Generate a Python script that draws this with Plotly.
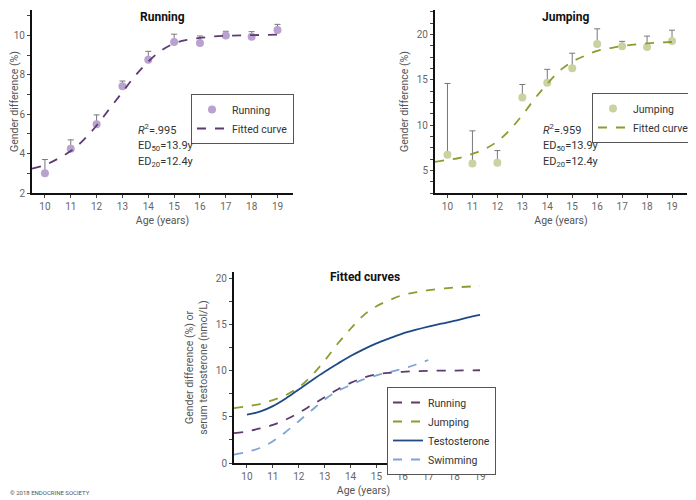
import plotly.graph_objects as go

# page body has an 8px margin, so the figure is drawn 8px smaller and shifted
OFF = 8
W, H = 696 - OFF, 500 - OFF

# DATA
ages = [10, 11, 12, 13, 14, 15, 16, 17, 18, 19]

running_pct = [3.0, 4.25, 5.49, 7.43, 8.77, 9.68, 9.62, 10.0, 9.94, 10.28]
running_err = [0.7, 0.45, 0.48, 0.26, 0.43, 0.39, 0.36, 0.22, 0.26, 0.29]

jumping_pct = [6.71, 5.76, 5.84, 13.03, 14.66, 16.26, 18.95, 18.69, 18.62, 19.28]
jumping_err = [7.88, 3.6, 1.34, 1.45, 1.49, 1.67, 1.67, 0.55, 1.2, 1.19]

curve_age = [9.5, 10, 10.5, 11, 11.5, 12, 12.5, 13, 13.5, 14, 14.5, 15, 15.5, 16, 16.5, 17, 18, 19]
running_fit = [3.24, 3.42, 3.74, 4.13, 4.7, 5.43, 6.28, 7.13, 7.97, 8.68, 9.24, 9.6, 9.78, 9.88, 9.95, 9.99, 10.02, 10.05]
jumping_fit = [5.94, 6.16, 6.38, 6.82, 7.36, 8.2, 9.47, 11.1, 12.92, 14.55, 16.0, 16.99, 17.64, 18.19, 18.48, 18.73, 19.02, 19.17]

testo_age = [10, 10.5, 11, 11.5, 12, 12.5, 13, 13.5, 14, 14.5, 15, 15.5, 16, 16.5, 17, 17.5, 18, 18.5, 19]
testo_fit = [5.25, 5.56, 6.16, 6.99, 7.97, 8.95, 9.89, 10.76, 11.59, 12.32, 12.97, 13.51, 14.02, 14.42, 14.78, 15.1, 15.4, 15.75, 16.05]

swim_age = [9.5, 10, 10.5, 11, 11.5, 12, 12.5, 13, 13.5, 14, 14.5, 15, 15.5, 16, 16.5, 17]
swim_fit = [0.9, 1.2, 1.63, 2.36, 3.37, 4.53, 5.72, 6.88, 7.79, 8.44, 9.06, 9.49, 9.86, 10.22, 10.65, 11.16]

FONT = "Roboto, sans-serif"
C_RUN_PT, C_RUN = "#b9a2cf", "#5d3b70"
C_JMP_PT, C_JMP = "#c8d3a2", "#8c9c2e"
C_TESTO, C_SWIM = "#1f4a86", "#7ea4d6"


def px_x(p):
    return max(p - OFF, 0) / W


def px_y(p):
    return 1 - max(p - OFF, 0) / H


fig = go.Figure()

# top-left: running
fig.add_trace(go.Scatter(x=ages, y=running_pct, mode="markers", name="Running",
                         marker=dict(color=C_RUN_PT, size=8),
                         error_y=dict(type="data", symmetric=False, array=running_err,
                                      arrayminus=[0] * 10, color="#777", thickness=1, width=3),
                         xaxis="x", yaxis="y", legend="legend"))
fig.add_trace(go.Scatter(x=curve_age, y=running_fit, mode="lines", name="Fitted curve",
                         line=dict(color=C_RUN, width=1.8, dash="dash", shape="spline"),
                         xaxis="x", yaxis="y", legend="legend"))

# top-right: jumping
fig.add_trace(go.Scatter(x=ages, y=jumping_pct, mode="markers", name="Jumping",
                         marker=dict(color=C_JMP_PT, size=8),
                         error_y=dict(type="data", symmetric=False, array=jumping_err,
                                      arrayminus=[0] * 10, color="#777", thickness=1, width=3),
                         xaxis="x2", yaxis="y2", legend="legend2"))
fig.add_trace(go.Scatter(x=curve_age, y=jumping_fit, mode="lines", name="Fitted curve",
                         line=dict(color=C_JMP, width=1.8, dash="dash", shape="spline"),
                         xaxis="x2", yaxis="y2", legend="legend2"))

# bottom: all fitted curves
fig.add_trace(go.Scatter(x=curve_age, y=running_fit, mode="lines", name="Running",
                         line=dict(color=C_RUN, width=1.8, dash="dash", shape="spline"),
                         xaxis="x3", yaxis="y3", legend="legend3"))
fig.add_trace(go.Scatter(x=curve_age, y=jumping_fit, mode="lines", name="Jumping",
                         line=dict(color=C_JMP, width=1.8, dash="dash", shape="spline"),
                         xaxis="x3", yaxis="y3", legend="legend3"))
fig.add_trace(go.Scatter(x=testo_age, y=testo_fit, mode="lines", name="Testosterone",
                         line=dict(color=C_TESTO, width=1.8, shape="spline"),
                         xaxis="x3", yaxis="y3", legend="legend3"))
fig.add_trace(go.Scatter(x=swim_age, y=swim_fit, mode="lines", name="Swimming",
                         line=dict(color=C_SWIM, width=1.8, dash="dash", shape="spline"),
                         xaxis="x3", yaxis="y3", legend="legend3"))

axis_common = dict(showline=True, linecolor="#111", linewidth=2, ticks="outside",
                   ticklen=3, tickcolor="#444", showgrid=False, zeroline=False,
                   automargin=False, tickfont=dict(family=FONT, size=10, color="#666"))
title_font = dict(family=FONT, size=10.5, color="#555")
minor_tick = dict(ticks="outside", ticklen=3, tickcolor="#444")

xax = dict(axis_common, range=[9.5, 19.6], tickvals=ages,
           title=dict(text="Age (years)", font=title_font, standoff=6))

legend_style = dict(xanchor="right", yanchor="top", bordercolor="#555", borderwidth=1,
                    bgcolor="white", font=dict(family=FONT, size=10.5, color="#333"),
                    tracegroupgap=0, itemwidth=30)

fig.update_layout(
    width=W, height=H, margin=dict(l=0, r=0, t=0, b=0),
    plot_bgcolor="white", paper_bgcolor="white",
    font=dict(family=FONT, color="#333"),
    xaxis=dict(xax, domain=[px_x(32), px_x(293)], anchor="y"),
    yaxis=dict(axis_common, domain=[px_y(193), px_y(10)], anchor="x", range=[2, 11.3],
               tickvals=[2, 4, 6, 8, 10], minor=dict(minor_tick, dtick=1),
               title=dict(text="Gender difference (%)", font=title_font, standoff=6)),
    xaxis2=dict(xax, domain=[px_x(435), px_x(687)], anchor="y2"),
    yaxis2=dict(axis_common, domain=[px_y(193), px_y(10)], anchor="x2", range=[2.5, 22.7],
                tickvals=[5, 10, 15, 20], minor=dict(minor_tick, tick0=0, dtick=1.25),
                title=dict(text="Gender difference (%)", font=title_font, standoff=6)),
    xaxis3=dict(xax, domain=[px_x(234), px_x(493)], anchor="y3", range=[9.5, 19.5]),
    yaxis3=dict(axis_common, domain=[px_y(463), px_y(272)], anchor="x3", range=[0, 20.7],
                tickvals=[0, 5, 10, 15, 20], minor=dict(minor_tick, tick0=0, dtick=2.5),
                title=dict(text="Gender difference (%) or<br>serum testosterone (nmol/L)",
                           font=title_font, standoff=6)),
    legend=dict(legend_style, x=px_x(294), y=px_y(94)),
    legend2=dict(legend_style, x=px_x(695), y=px_y(93)),
    legend3=dict(legend_style, x=px_x(496), y=px_y(387)),
)

# panel titles (the top two sit at the very top edge of the page)
notes = [
    (px_x(162), px_y(8), "top", "<b>Running</b>"),
    (px_x(565), px_y(8), "top", "<b>Jumping</b>"),
    (px_x(365), px_y(277), "middle", "<b>Fitted curves</b>"),
]
for x, y, ya, t in notes:
    fig.add_annotation(x=x, y=y, xref="paper", yref="paper", text=t, showarrow=False,
                       xanchor="center", yanchor=ya, font=dict(family=FONT, size=12, color="#111"))

stats = ["<i>R</i><sup>2</sup>=.995", "ED<sub>50</sub>=13.9y", "ED<sub>20</sub>=12.4y"]
stats2 = ["<i>R</i><sup>2</sup>=.959", "ED<sub>50</sub>=13.9y", "ED<sub>20</sub>=12.4y"]
for i, (a, b) in enumerate(zip(stats, stats2)):
    yy = px_y(130 + 16 * i)
    fig.add_annotation(x=px_x(136), y=yy, xref="paper", yref="paper", text=a, showarrow=False,
                       xanchor="left", yanchor="middle", font=dict(family=FONT, size=11, color="#333"))
    fig.add_annotation(x=px_x(541), y=yy, xref="paper", yref="paper", text=b, showarrow=False,
                       xanchor="left", yanchor="middle", font=dict(family=FONT, size=11, color="#333"))

fig.add_annotation(x=0, y=px_y(492), xref="paper", yref="paper", text="© 2018 ENDOCRINE SOCIETY",
                   showarrow=False, xanchor="left", yanchor="middle",
                   font=dict(family=FONT, size=6, color="#555"))

fig.write_html("out.html")
